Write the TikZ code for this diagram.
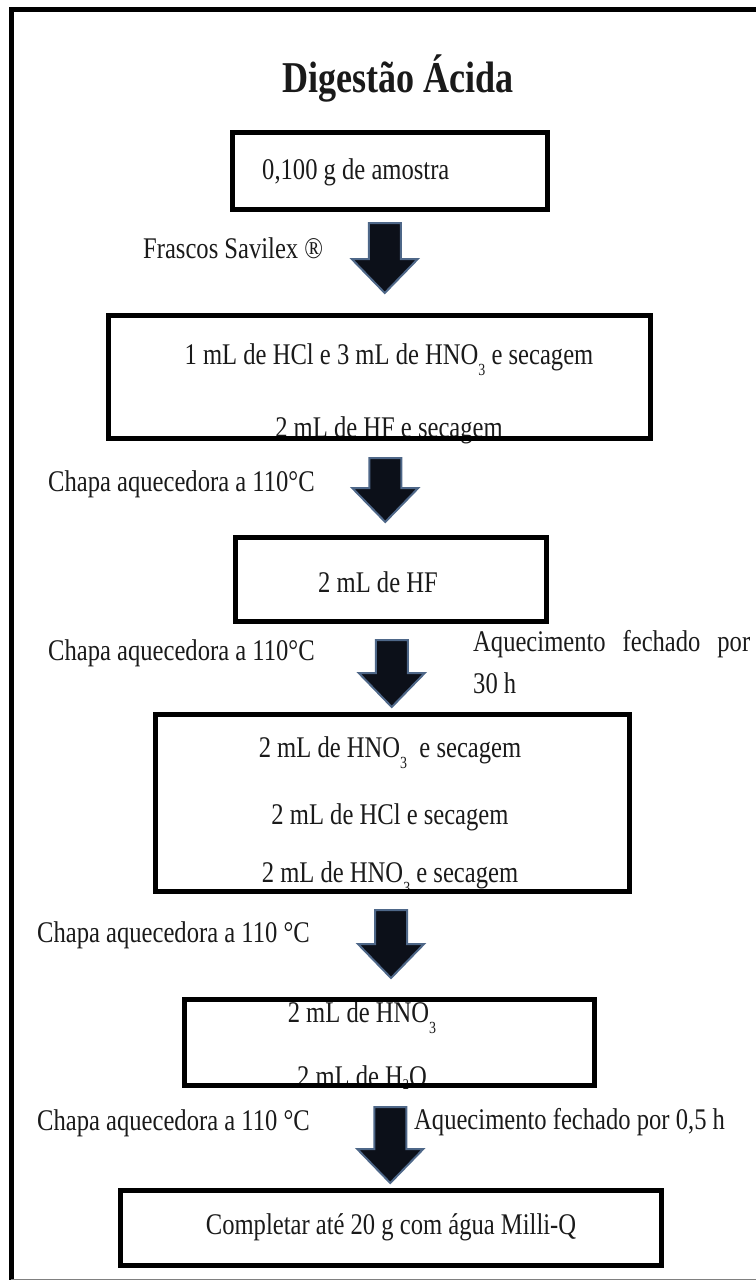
\documentclass[tikz,border=0pt]{standalone}
\usepackage{fontspec}
\setmainfont{Liberation Serif}[FakeStretch=0.82]
\usetikzlibrary{calc}
\definecolor{arrowfill}{HTML}{0C1019}
\definecolor{arrowedge}{HTML}{4E6788}
\definecolor{inkc}{HTML}{1A1A1A}
\newcommand\subthree{\raisebox{-11pt}{\fontsize{17}{17}\selectfont 3}}
\newcommand\subtwo{\raisebox{-3pt}{\fontsize{15}{15}\selectfont 2}}
\newcommand\fatarrow[4]{%
  \path[fatarrowsty] let \p1=(#1.south), \p2=(#2.north), \p3=($(#1.south)!0.5!(#2.north)$) in
    (\x3-16pt,\y1-#3pt) -- (\x3+16pt,\y1-#3pt) -- (\x3+16pt,\y2+#4pt+34pt)
    -- (\x3+33pt,\y2+#4pt+34pt) -- (\x3,\y2+#4pt) -- (\x3-33pt,\y2+#4pt+34pt)
    -- (\x3-16pt,\y2+#4pt+34pt) -- cycle;}
\begin{document}
\begin{tikzpicture}[x=1pt,y=-1pt,
  boxsty/.style={draw=black, line width=5pt, inner sep=0pt},
  txt/.style={inner sep=0pt, text=inkc, font=\fontsize{30}{36}\selectfont},
  fatarrowsty/.style={fill=arrowfill, draw=arrowedge, line width=2pt, line join=miter},
  framesty/.style={draw=black, line width=5pt}]
\useasboundingbox (0,0) rectangle (755,1282);
% outer frame
\draw[framesty] (760,9) -- (11,9) -- (11,1280);
\draw[gray, line width=1.5pt] (11,1279.5) -- (760,1279.5);

% title
\node[txt, font=\fontsize{44}{50}\selectfont\bfseries] (title) at (398,78) {Digestão Ácida};

% texts inside the boxes
\node[txt, anchor=west] (t1) at (262,172) {0,100 g de amostra};
\node[txt, anchor=base] (t2a) at (389,364) {1 mL de HCl e 3 mL de HNO\subthree\ e secagem};
\node[txt, anchor=base] (t2b) at (389,437) {2 mL de HF e secagem};
\node[txt, anchor=base] (t3) at (378,592) {2 mL de HF};
\node[txt, anchor=base] (t4a) at (390,757) {2 mL de HNO\subthree\ \ e secagem};
\node[txt, anchor=base] (t4b) at (390,824) {2 mL de HCl e secagem};
\node[txt, anchor=base] (t4c) at (390,882) {2 mL de HNO\subthree\ e secagem};
\node[txt, anchor=base] (t5a) at (362,1022) {2 mL de HNO\subthree};
\node[txt, anchor=base] (t5b) at (362,1086) {2 mL de H\subtwo O};
\node[txt, anchor=base] (t6) at (391,1234) {Completar até 20 g com água Milli-Q};

% boxes
\node[boxsty, minimum width=315pt, minimum height=77pt] (b1) at (390,171) {};
\node[boxsty, minimum width=542pt, minimum height=123pt] (b2) at (379.5,377) {};
\node[boxsty, minimum width=311pt, minimum height=84pt] (b3) at (391,579.5) {};
\node[boxsty, minimum width=474pt, minimum height=177pt] (b4) at (392.5,803) {};
\node[boxsty, minimum width=410pt, minimum height=86pt] (b5) at (389.5,1042.5) {};
\node[boxsty, minimum width=541pt, minimum height=75pt] (b6) at (391,1228) {};

% side labels
\node[txt, anchor=west] (l1) at (143,248) {Frascos Savilex ®};
\node[txt, anchor=west] (l2) at (48,484) {Chapa aquecedora a 110°C};
\node[txt, anchor=west] (l3) at (48,653) {Chapa aquecedora a 110°C};
\node[txt, anchor=north west, align=left, font=\fontsize{30}{42}\selectfont] (l4) at (473,630)
  {\makebox[277pt][s]{Aquecimento fechado por}\\30 h};
\node[txt, anchor=west] (l5) at (37,935) {Chapa aquecedora a 110 °C};
\node[txt, anchor=west] (l6) at (37,1123) {Chapa aquecedora a 110 °C};
\node[txt, anchor=west] (l7) at (414,1122) {Aquecimento fechado por 0,5 h};

% block arrows
\fatarrow{b1}{b2}{11}{20}
\fatarrow{b2}{b3}{17}{13}
\fatarrow{b3}{b4}{16}{5}
\fatarrow{b4}{b5}{16}{19}
\fatarrow{b5}{b6}{19}{5}
\end{tikzpicture}
\end{document}
